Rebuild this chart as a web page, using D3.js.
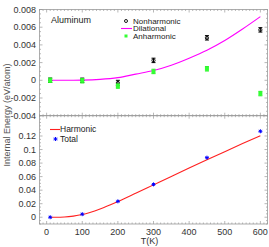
<!DOCTYPE html>
<html><head><meta charset="utf-8">
<script src="https://cdn.jsdelivr.net/npm/d3@7"></script>
<style>body{margin:0;background:#fff}svg{display:block}text{font-family:"Liberation Sans",Arial,sans-serif}</style>
</head><body>
<svg id="c" width="269" height="247"></svg>
<script>
const temps = [10, 100, 200, 300, 450, 600];
const nonharmonic = [0.0000, 0.0000, -0.0003, 0.00225, 0.0048, 0.0057];
const nonharmonicErr = [0.00025, 0.00025, 0.0003, 0.00025, 0.00025, 0.00025];
const anharmonic = [0.0000, -0.00005, -0.00065, 0.0010, 0.0013, -0.0015];
const anharmonicErr = [0.00025, 0.00025, 0.00025, 0.00025, 0.00025, 0.00025];
const dilT = [10, 50, 100, 150, 200, 250, 300, 350, 400, 450, 500, 550, 600];
const dilational = [0, 0, 0.00002, 0.0001, 0.0003, 0.0007, 0.0011, 0.0017, 0.0025, 0.0034, 0.0045, 0.0058, 0.0072];
const harmT = [10, 25, 50, 75, 100, 150, 200, 250, 300, 350, 400, 450, 500, 550, 600];
const harmonic = [0, 0.00002, 0.0004, 0.0017, 0.0040, 0.0122, 0.0231, 0.0353, 0.0478, 0.0603, 0.0727, 0.0849, 0.0969, 0.1088, 0.1205];
const total = [0.0000, 0.0045, 0.0235, 0.0485, 0.0880, 0.1270];
const xTicks = [0, 100, 200, 300, 400, 500, 600];
const topTicks = [-0.004, -0.002, 0, 0.002, 0.004, 0.006, 0.008];
const topTickLabels = ["-0.004", "-0.002", "0", "0.002", "0.004", "0.006", "0.008"];
const botTicks = [0, 0.02, 0.04, 0.06, 0.08, 0.1, 0.12];
const botTickLabels = ["0", "0.02", "0.04", "0.06", "0.08", "0.1", "0.12"];

const svg = d3.select("#c");
const L = 39.5, R = 267.5, T1 = 9.5, M = 115.7, B = 224;
const x = d3.scaleLinear().domain([-20, 620]).range([L, R]);
const yT = d3.scaleLinear().domain([-0.004, 0.008]).range([M, T1]);
const yB = d3.scaleLinear().domain([-0.01, 0.15]).range([B, M]);
const axisCol = "#999", labCol = "#333";

function frame(y, top, bot, yMaj, yMin, yLabels) {
  const g = svg.append("g");
  g.append("rect").attr("x", L).attr("y", top).attr("width", R - L).attr("height", bot - top)
    .attr("fill", "none").attr("stroke", axisCol).attr("stroke-width", 0.8);
  const xMin = d3.range(-20, 621, 10);
  xMin.forEach(v => {
    const len = (v % 100 === 0) ? 3 : 1.5;
    [[bot, -1], [top, 1]].forEach(([yy, d]) => {
      g.append("line").attr("x1", x(v)).attr("x2", x(v)).attr("y1", yy).attr("y2", yy + d * len)
        .attr("stroke", axisCol).attr("stroke-width", 0.7);
    });
  });
  yMin.forEach(v => {
    const isMaj = yMaj.some(m => Math.abs(m - v) < 1e-9);
    const len = isMaj ? 3 : 1.5;
    [[L, 1], [R, -1]].forEach(([xx, d]) => {
      g.append("line").attr("x1", xx).attr("x2", xx + d * len).attr("y1", y(v)).attr("y2", y(v))
        .attr("stroke", axisCol).attr("stroke-width", 0.7);
    });
  });
  yMaj.forEach((v, i) => {
    g.append("text").attr("x", L - 3.5).attr("y", y(v)).attr("dy", "0.35em").attr("text-anchor", "end")
      .attr("font-size", 9).attr("fill", labCol).text(yLabels[i]);
  });
}
frame(yT, T1, M, topTicks, d3.range(-0.004, 0.00801, 0.0005).map(v => +v.toFixed(5)), topTickLabels);
frame(yB, M, B, botTicks, d3.range(-0.01, 0.1501, 0.005).map(v => +v.toFixed(4)), botTickLabels);

xTicks.forEach(v => {
  svg.append("text").attr("x", x(v)).attr("y", 235).attr("text-anchor", "middle")
    .attr("font-size", 9).attr("fill", labCol).text(v);
});
svg.append("text").attr("x", x(300) - 4).attr("y", 244).attr("text-anchor", "middle")
  .attr("font-size", 9).attr("fill", labCol).text("T(K)");
svg.append("text").attr("transform", "translate(10,115) rotate(-90)").attr("text-anchor", "middle")
  .attr("font-size", 9).attr("fill", "#555").text("Internal Energy (eV/atom)");

// Top panel
svg.append("path").datum(dilT.map((t, i) => [t, dilational[i]]))
  .attr("d", d3.line().x(d => x(d[0])).y(d => yT(d[1])).curve(d3.curveMonotoneX))
  .attr("fill", "none").attr("stroke", "#ff00ff").attr("stroke-width", 1.1);

function errBars(vals, errs, col) {
  temps.forEach((t, i) => {
    const cx = x(t), y1 = yT(vals[i] - errs[i]), y2 = yT(vals[i] + errs[i]);
    svg.append("line").attr("x1", cx).attr("x2", cx).attr("y1", y1).attr("y2", y2).attr("stroke", col).attr("stroke-width", 1);
    [y1, y2].forEach(yy => svg.append("line").attr("x1", cx - 2).attr("x2", cx + 2).attr("y1", yy).attr("y2", yy).attr("stroke", col).attr("stroke-width", 1));
  });
}
errBars(nonharmonic, nonharmonicErr, "#000");
temps.forEach((t, i) => {
  svg.append("circle").attr("cx", x(t)).attr("cy", yT(nonharmonic[i])).attr("r", 1.6).attr("fill", "none").attr("stroke", "#000").attr("stroke-width", 0.9);
});
errBars(anharmonic, anharmonicErr, "#22ee22");
temps.forEach((t, i) => {
  svg.append("rect").attr("x", x(t) - 2).attr("y", yT(anharmonic[i]) - 2).attr("width", 4).attr("height", 4).attr("fill", "#33ff33");
});

svg.append("text").attr("x", 51).attr("y", 23).attr("font-size", 9).attr("fill", "#222").text("Aluminum");
const lg = [["Nonharmonic", 21], ["Dilational", 28.5], ["Anharmonic", 36]];
svg.append("circle").attr("cx", 126).attr("cy", lg[0][1]).attr("r", 1.5).attr("fill", "none").attr("stroke", "#000").attr("stroke-width", 0.9);
svg.append("line").attr("x1", 121).attr("x2", 132).attr("y1", lg[1][1]).attr("y2", lg[1][1]).attr("stroke", "#ff00ff").attr("stroke-width", 1.1);
svg.append("rect").attr("x", 124.5).attr("y", lg[2][1] - 1.5).attr("width", 3).attr("height", 3).attr("fill", "#33ff33");
lg.forEach(([s, yy]) => svg.append("text").attr("x", 133).attr("y", yy).attr("dy", "0.35em").attr("font-size", 8).attr("fill", "#222").text(s));

// Bottom panel
svg.append("path").datum(harmT.map((t, i) => [t, harmonic[i]]))
  .attr("d", d3.line().x(d => x(d[0])).y(d => yB(d[1])).curve(d3.curveMonotoneX))
  .attr("fill", "none").attr("stroke", "#ff2020").attr("stroke-width", 1.1);
function star(cx, cy) {
  const s = 2;
  [[0, -s, 0, s], [-s, 0, s, 0], [-s * 0.7, -s * 0.7, s * 0.7, s * 0.7], [-s * 0.7, s * 0.7, s * 0.7, -s * 0.7]].forEach(d =>
    svg.append("line").attr("x1", cx + d[0]).attr("y1", cy + d[1]).attr("x2", cx + d[2]).attr("y2", cy + d[3]).attr("stroke", "#0000ff").attr("stroke-width", 1));
}
temps.forEach((t, i) => star(x(t), yB(total[i])));
svg.append("line").attr("x1", 50).attr("x2", 60).attr("y1", 129.5).attr("y2", 129.5).attr("stroke", "#ff2020").attr("stroke-width", 1.1);
star(55.5, 139);
svg.append("text").attr("x", 60).attr("y", 129.5).attr("dy", "0.35em").attr("font-size", 8.5).attr("fill", "#222").text("Harmonic");
svg.append("text").attr("x", 60).attr("y", 139).attr("dy", "0.35em").attr("font-size", 8.5).attr("fill", "#222").text("Total");
</script>
</body></html>
